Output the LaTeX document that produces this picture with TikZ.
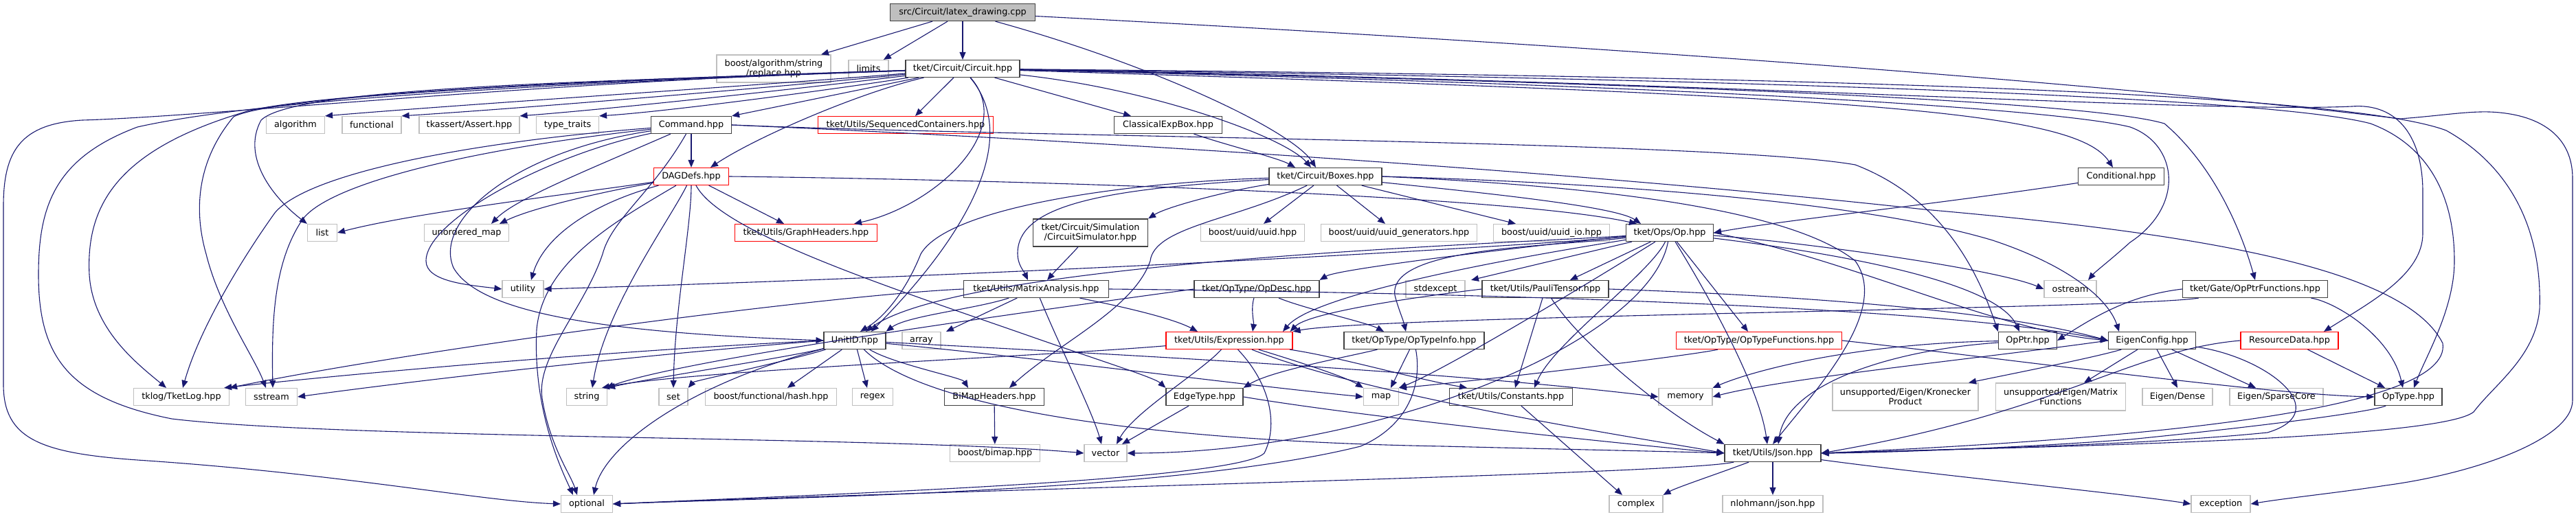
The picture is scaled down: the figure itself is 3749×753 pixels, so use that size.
\documentclass[tikz,border=0pt]{standalone}
\usepackage{fontspec}
\setmainfont{DejaVu Sans}
\usetikzlibrary{arrows.meta}
\definecolor{eb}{HTML}{191970}
\definecolor{gb}{HTML}{BFBFBF}
\definecolor{db}{HTML}{404040}
\begin{document}
\begin{tikzpicture}[x=0.5pt,y=-0.5pt,
  every node/.style={font=\fontsize{6.4}{7.2}\selectfont, inner sep=0pt, align=center, text=black},
  box/.style={draw, line width=0.6pt, minimum height=12.5pt},
  doc/.style={box, draw=db},
  sys/.style={box, draw=gb},
  redbox/.style={box, draw=red},
  rootbox/.style={box, draw=db, fill=gb},
  tall/.style={minimum height=20pt},
  e/.style={draw=eb, line width=0.55pt, -{Triangle[length=5.5pt,width=4.5pt]}}]
\fill[white] (0,0) rectangle (3749,753);
\useasboundingbox (0,0) rectangle (3749,753);
% ---------- nodes ----------
\node[rootbox, minimum width=105.5pt] (root) at (1401,18) {src/Circuit/latex\_drawing.cpp};
\node[sys, tall, minimum width=83pt] (replace) at (1126,100) {boost/algorithm/string\\/replace.hpp};
\node[sys, minimum width=29pt] (limits) at (1264,100) {limits};
\node[doc, minimum width=83pt] (circuit) at (1401,100) {tket/Circuit/Circuit.hpp};
\node[sys, minimum width=42.5pt] (algorithm) at (430,182) {algorithm};
\node[sys, minimum width=43pt] (functional) at (541,182) {functional};
\node[sys, minimum width=73pt] (assert) at (683,182) {tkassert/Assert.hpp};
\node[sys, minimum width=45.5pt] (typetraits) at (826,182) {type\_traits};
\node[doc, minimum width=58.5pt] (command) at (1006,182) {Command.hpp};
\node[redbox, minimum width=127.5pt] (seqcont) at (1318,182) {tket/Utils/SequencedContainers.hpp};
\node[doc, minimum width=78.5pt] (classexp) at (1700,182) {ClassicalExpBox.hpp};
\node[redbox, minimum width=54.5pt] (dagdefs) at (1006,257) {DAGDefs.hpp};
\node[doc, minimum width=82pt] (boxes) at (1929,257) {tket/Circuit/Boxes.hpp};
\node[doc, minimum width=62.5pt] (conditional) at (3087,257) {Conditional.hpp};
\node[sys, minimum width=21.5pt] (list) at (469,339) {list};
\node[sys, minimum width=61.5pt] (umap) at (679,339) {unordered\_map};
\node[redbox, minimum width=103.5pt] (graphh) at (1173,339) {tket/Utils/GraphHeaders.hpp};
\node[doc, tall, minimum width=83.5pt] (circsim) at (1587,339) {tket/Circuit/Simulation\\/CircuitSimulator.hpp};
\node[sys, minimum width=75.5pt] (uuid) at (1823,339) {boost/uuid/uuid.hpp};
\node[sys, minimum width=113.5pt] (uuidgen) at (2036,339) {boost/uuid/uuid\_generators.hpp};
\node[sys, minimum width=84.5pt] (uuidio) at (2258,339) {boost/uuid/uuid\_io.hpp};
\node[doc, minimum width=63.5pt] (op) at (2430,339) {tket/Ops/Op.hpp};
\node[sys, minimum width=30pt] (utility) at (761,421) {utility};
\node[doc, minimum width=105.5pt] (matrix) at (1508,421) {tket/Utils/MatrixAnalysis.hpp};
\node[doc, minimum width=91pt] (opdesc) at (1829,421) {tket/OpType/OpDesc.hpp};
\node[sys, minimum width=43pt] (stdexcept) at (2089,421) {stdexcept};
\node[doc, minimum width=92pt] (pauli) at (2249,421) {tket/Utils/PauliTensor.hpp};
\node[sys, minimum width=38pt] (ostream) at (3013,421) {ostream};
\node[doc, minimum width=105.5pt] (opptrfun) at (3282,421) {tket/Gate/OpPtrFunctions.hpp};
\node[doc, minimum width=45pt] (unitid) at (1244,496) {UnitID.hpp};
\node[sys, minimum width=28pt] (array) at (1341,496) {array};
\node[redbox, minimum width=92pt] (expr) at (1789,496) {tket/Utils/Expression.hpp};
\node[doc, minimum width=102pt] (optinfo) at (2058,496) {tket/OpType/OpTypeInfo.hpp};
\node[redbox, minimum width=120.5pt] (optfun) at (2560,496) {tket/OpType/OpTypeFunctions.hpp};
\node[doc, minimum width=42.5pt] (opptr) at (2951,496) {OpPtr.hpp};
\node[doc, minimum width=63.5pt] (eigen) at (3132,496) {EigenConfig.hpp};
\node[redbox, minimum width=71pt] (resource) at (3332,496) {ResourceData.hpp};
\node[sys, minimum width=69.5pt] (tklog) at (264,578) {tklog/TketLog.hpp};
\node[sys, minimum width=37.5pt] (sstream) at (395,578) {sstream};
\node[sys, minimum width=29.5pt] (string) at (854,578) {string};
\node[sys, minimum width=21pt] (set) at (980,578) {set};
\node[sys, minimum width=95.5pt] (hash) at (1122,578) {boost/functional/hash.hpp};
\node[sys, minimum width=29.5pt] (regex) at (1270,578) {regex};
\node[doc, minimum width=72.5pt] (bimaph) at (1447,578) {BiMapHeaders.hpp};
\node[doc, minimum width=56pt] (edgetype) at (1753,578) {EdgeType.hpp};
\node[sys, minimum width=25.5pt] (map) at (2010,578) {map};
\node[doc, minimum width=89.5pt] (constants) at (2199,578) {tket/Utils/Constants.hpp};
\node[sys, minimum width=39pt] (memory) at (2453,578) {memory};
\node[sys, tall, minimum width=106pt] (kron) at (2773,578) {unsupported/Eigen/Kronecker\\Product};
\node[sys, tall, minimum width=94.5pt] (matfun) at (2999,578) {unsupported/Eigen/Matrix\\Functions};
\node[sys, minimum width=51pt] (dense) at (3169,578) {Eigen/Dense};
\node[sys, minimum width=68pt] (sparse) at (3313,578) {Eigen/SparseCore};
\node[doc, minimum width=49pt] (optype) at (3505,578) {OpType.hpp};
\node[sys, minimum width=65.5pt] (bimap) at (1448,660) {boost/bimap.hpp};
\node[sys, minimum width=31pt] (vector) at (1609,660) {vector};
\node[doc, minimum width=70pt] (json) at (2580,660) {tket/Utils/Json.hpp};
\node[sys, minimum width=37.5pt] (optional) at (854,734) {optional};
\node[sys, minimum width=39pt] (complex) at (2381,734) {complex};
\node[sys, minimum width=73pt] (nlohmann) at (2580,734) {nlohmann/json.hpp};
\node[sys, minimum width=43pt] (exception) at (3232,734) {exception};
% ---------- root ----------
\draw[e] (root) -- (replace);
\draw[e] (root) -- (limits);
\draw[e] (root) -- (circuit);
\draw[e] (root) .. controls (1680,95) and (1880,190) .. ([xshift=-7pt]boxes.north);
\draw[e] (root) .. controls (2400,70) and (3100,125) .. (3493,173) .. controls (3560,168) and (3600,160) .. (3638,164) .. controls (3700,170) and (3744,200) .. (3744,260) -- (3744,583) .. controls (3744,640) and (3600,690) .. (3472,707) .. controls (3400,718) and (3330,725) .. (exception.east);
% ---------- Circuit ----------
\draw[e] (circuit) .. controls (1100,125) and (700,150) .. (algorithm.north east);
\draw[e] (circuit) .. controls (1150,125) and (800,155) .. (functional.north east);
\draw[e] (circuit) .. controls (1200,125) and (900,158) .. (assert.north east);
\draw[e] (circuit) .. controls (1250,125) and (980,162) .. (typetraits.north east);
\draw[e] (circuit) -- (command.north east);
\draw[e] (circuit) -- ([xshift=7pt]seqcont.north);
\draw[e] (circuit) -- ([xshift=-27pt]classexp.north);
\draw[e] (circuit) .. controls (1680,130) and (1870,200) .. ([xshift=-10.5pt]boxes.north);
\draw[e] (circuit) .. controls (1250,135) and (1100,200) .. ([xshift=14pt]dagdefs.north);
\draw[e] (circuit) .. controls (1480,190) and (1360,300) .. ([xshift=35pt]graphh.north);
\draw[e] (circuit) .. controls (1510,230) and (1330,420) .. ([xshift=12pt]unitid.north);
\draw[e] (circuit) .. controls (900,118) and (430,125) .. (380,175) .. controls (350,230) and (400,290) .. (list.north west);
\draw[e] (circuit) .. controls (800,118) and (420,140) .. (350,165) .. controls (170,220) and (125,300) .. (130,400) .. controls (135,480) and (200,530) .. ([xshift=-11pt]tklog.north);
\draw[e] (circuit) .. controls (900,118) and (400,140) .. (200,185) .. controls (80,230) and (56,300) .. (56,400) .. controls (56,520) and (100,580) .. (250,610) .. controls (500,640) and (1300,635) .. (vector.west);
\draw[e] (circuit) .. controls (800,118) and (300,170) .. (120,175) .. controls (30,180) and (5,220) .. (5,300) -- (5,560) .. controls (5,640) and (60,660) .. (200,670) .. controls (500,690) and (700,730) .. (optional.west);
\draw[e] (circuit) .. controls (800,120) and (400,140) .. (340,170) .. controls (290,230) and (280,300) .. (300,370) .. controls (320,450) and (370,520) .. ([xshift=-4pt]sstream.north);
\draw[e] (circuit) .. controls (2700,140) and (3020,160) .. ([xshift=-6pt]conditional.north);
\draw[e] (circuit) .. controls (2500,125) and (3000,160) .. (3100,185) .. controls (3170,210) and (3180,300) .. (3100,353) .. controls (3070,380) and (3050,395) .. ([xshift=13pt]ostream.north);
\draw[e] (circuit) .. controls (2500,122) and (3050,150) .. (3150,180) .. controls (3220,240) and (3260,330) .. (opptrfun.north);
\draw[e] (circuit) .. controls (2500,118) and (3200,165) .. (3423,155) .. controls (3490,150) and (3526,200) .. (3526,280) -- (3526,340) .. controls (3526,400) and (3450,440) .. ([xshift=25pt]resource.north);
\draw[e] (circuit) .. controls (2500,114) and (3300,140) .. (3450,180) .. controls (3530,210) and (3572,280) .. (3572,380) .. controls (3572,450) and (3530,520) .. ([xshift=4pt]optype.north);
\draw[e] (circuit) .. controls (2500,110) and (3400,130) .. (3560,190) .. controls (3650,240) and (3700,330) .. (3696,450) .. controls (3690,520) and (3630,560) .. (3600,600) .. controls (3550,640) and (3000,650) .. (json.east);
% ---------- Command ----------
\draw[e] (command) -- (dagdefs);
\draw[e] (command.east) .. controls (1500,200) and (2500,205) .. (2700,240) .. controls (2830,290) and (2880,400) .. (opptr.north west);
\draw[e] (command) .. controls (750,220) and (630,320) .. (660,390) .. controls (700,460) and (900,485) .. (unitid.west);
\draw[e] (command) .. controls (700,205) and (450,250) .. (400,310) .. controls (350,380) and (290,480) .. ([xshift=1pt]tklog.north);
\draw[e] (command) .. controls (700,215) and (480,265) .. (440,320) .. controls (400,380) and (395,460) .. ([xshift=1pt]sstream.north);
\draw[e] (command) .. controls (800,225) and (620,320) .. (620,380) .. controls (620,410) and (680,415) .. (utility.west);
\draw[e] (command) .. controls (950,280) and (890,320) .. (877,370) .. controls (850,450) and (780,520) .. (789,580) .. controls (800,650) and (830,690) .. ([xshift=-7pt]optional.north);
\draw[e] (command) .. controls (850,250) and (750,290) .. ([xshift=18pt]umap.north);
\draw[e] (command.east) .. controls (1600,205) and (2300,250) .. (2800,305) .. controls (3200,340) and (3500,390) .. (3555,500) .. controls (3570,600) and (3100,640) .. (json.east);
% ---------- DAGDefs ----------
\draw[e] (dagdefs) .. controls (850,280) and (600,310) .. (list.east);
\draw[e] (dagdefs) .. controls (900,275) and (780,300) .. ([xshift=24pt]umap.north);
\draw[e] (dagdefs) .. controls (850,300) and (790,350) .. ([xshift=6pt]utility.north);
\draw[e] (dagdefs) .. controls (900,320) and (790,380) .. (781,480) .. controls (775,600) and (820,690) .. ([xshift=-10pt]optional.north);
\draw[e] (dagdefs) .. controls (975,320) and (880,450) .. ([xshift=4pt]string.north);
\draw[e] (dagdefs) .. controls (1006,330) and (982,450) .. (set.north);
\draw[e] (dagdefs) .. controls (1050,340) and (1300,420) .. (1500,490) .. controls (1600,525) and (1680,550) .. (edgetype.north west);
\draw[e] (dagdefs) -- ([xshift=-16pt]graphh.north);
\draw[e] (dagdefs.east) .. controls (1500,262) and (2200,285) .. ([xshift=-24pt]op.north);
% ---------- Boxes ----------
\draw[e] (classexp) .. controls (1780,210) and (1860,230) .. ([xshift=-22pt]boxes.north);
\draw[e] (boxes) .. controls (1800,275) and (1700,300) .. (circsim.north east);
\draw[e] (boxes) -- ([xshift=8pt]uuid.north);
\draw[e] (boxes) -- ([xshift=-10pt]uuidgen.north);
\draw[e] (boxes) -- ([xshift=-26pt]uuidio.north);
\draw[e] (boxes) .. controls (2150,280) and (2350,300) .. ([xshift=-21pt]op.north);
\draw[e] (boxes) .. controls (1600,275) and (1480,300) .. (1481,370) .. controls (1481,385) and (1490,395) .. ([xshift=-6pt]matrix.north);
\draw[e] (boxes) .. controls (1650,265) and (1380,300) .. (1340,370) .. controls (1320,420) and (1290,460) .. ([xshift=4pt]unitid.north);
\draw[e] (boxes) .. controls (1800,320) and (1680,330) .. (1674,380) .. controls (1650,450) and (1540,500) .. ([xshift=11pt]bimaph.north);
\draw[e] (boxes.east) .. controls (2300,265) and (2700,290) .. (2900,350) .. controls (3020,390) and (3070,440) .. ([xshift=-24pt]eigen.north);
\draw[e] (boxes.east) .. controls (2300,270) and (2600,300) .. (2700,380) .. controls (2750,450) and (2650,560) .. (json.north);
% ---------- Op ----------
\draw[e] (op) .. controls (2200,360) and (1500,400) .. (utility.east);
\draw[e] (op) .. controls (2200,355) and (1400,380) .. ([xshift=8pt]unitid.north);
\draw[e] (op) .. controls (2300,350) and (1950,390) .. (opdesc.north east);
\draw[e] (op) -- ([xshift=26pt]stdexcept.north);
\draw[e] (op) -- ([xshift=18pt]pauli.north);
\draw[e] (op) .. controls (2300,360) and (1920,420) .. ([xshift=39pt]expr.north);
\draw[e] (op) .. controls (2250,360) and (2020,360) .. (2030,430) .. controls (2035,450) and (2042,465) .. ([xshift=-6pt]optinfo.north);
\draw[e] (op) -- ([xshift=-8pt]optfun.north);
\draw[e] (op) .. controls (2600,360) and (2900,400) .. ([xshift=-6pt]opptr.north);
\draw[e] (op) .. controls (2600,350) and (2900,390) .. (ostream.west);
\draw[e] (op) .. controls (2400,400) and (2260,500) .. ([xshift=17pt]constants.north);
\draw[e] (op) .. controls (2480,420) and (2560,560) .. ([xshift=-4pt]json.north);
\draw[e] (op) .. controls (2300,420) and (2100,540) .. ([xshift=13pt]map.north);
\draw[e] (op) .. controls (2400,500) and (2000,660) .. (vector.east);
\draw[e] (op.east) .. controls (2700,380) and (2900,480) .. (eigen.west);
\draw[e] (conditional) .. controls (2800,300) and (2600,320) .. (op.east);
% ---------- MatrixAnalysis ----------
\draw[e] (matrix) .. controls (1420,450) and (1320,460) .. (unitid.north east);
\draw[e] (matrix) -- ([xshift=18pt]array.north);
\draw[e] (matrix) .. controls (1540,500) and (1590,600) .. ([xshift=-3pt]vector.north);
\draw[e] (matrix) .. controls (1600,440) and (1700,460) .. ([xshift=-23pt]expr.north);
\draw[e] (matrix.east) .. controls (2000,425) and (2800,440) .. (eigen.west);
\draw[e] (matrix.west) .. controls (1200,430) and (600,510) .. (tklog.north east);
\draw[e] (circsim) .. controls (1560,370) and (1540,390) .. ([xshift=8pt]matrix.north);
% ---------- UnitID ----------
\draw[e] (unitid) .. controls (1150,520) and (950,550) .. (string.north east);
\draw[e] (unitid) .. controls (1150,525) and (1010,555) .. (set.north east);
\draw[e] (unitid) -- ([xshift=12pt]hash.north);
\draw[e] (unitid) -- ([xshift=-4pt]regex.north);
\draw[e] (unitid) .. controls (1300,530) and (1400,550) .. ([xshift=-19pt]bimaph.north);
\draw[e] (unitid) .. controls (1500,520) and (1800,560) .. (map.west);
\draw[e] (unitid) .. controls (1600,515) and (2100,540) .. (memory.west);
\draw[e] (unitid) .. controls (1350,600) and (1700,643) .. (2100,650) .. controls (2300,655) and (2450,658) .. (json.west);
\draw[e] (unitid) .. controls (1000,560) and (880,650) .. ([xshift=5pt]optional.north);
\draw[e] (unitid.west) .. controls (900,520) and (600,555) .. (sstream.east);
\draw[e] (unitid.west) .. controls (900,510) and (500,545) .. ([xshift=-4pt]tklog.north east);
\draw[e] (bimaph) -- (bimap);
% ---------- Expression ----------
\draw[e] (expr) .. controls (1500,520) and (1000,540) .. ([xshift=11pt]string.north);
\draw[e] (expr) .. controls (1850,560) and (1860,620) .. (1840,660) .. controls (1800,700) and (1200,720) .. (optional.east);
\draw[e] (expr) .. controls (1750,540) and (1650,600) .. ([xshift=8pt]vector.north);
\draw[e] (expr) .. controls (1950,520) and (2050,550) .. ([xshift=-32pt]constants.north);
\draw[e] (expr) .. controls (1900,530) and (1960,550) .. (map.north west);
\draw[e] (expr) .. controls (2000,580) and (2400,640) .. (json.west);
% ---------- OpDesc, PauliTensor, OpTypeInfo, OpTypeFunctions ----------
\draw[e] (opdesc) .. controls (1900,450) and (1990,470) .. ([xshift=-22pt]optinfo.north);
\draw[e] (opdesc) .. controls (1820,450) and (1825,470) .. ([xshift=17pt]expr.north);
\draw[e] (opdesc.west) .. controls (1600,440) and (1000,520) .. ([xshift=-1pt]string.north east);
\draw[e] (pauli) -- ([xshift=3pt]constants.north);
\draw[e] (pauli) .. controls (2300,500) and (2420,600) .. (json.north west);
\draw[e] (pauli.west) .. controls (2000,440) and (1900,460) .. ([xshift=-2pt]expr.north east);
\draw[e] (pauli.east) .. controls (2600,430) and (2900,450) .. (eigen.west);
\draw[e] (optinfo) -- ([xshift=7pt]map.north);
\draw[e] (optinfo) .. controls (2070,560) and (2050,620) .. (1980,650) .. controls (1700,720) and (1100,725) .. (optional.east);
\draw[e] (optinfo) .. controls (1960,520) and (1850,540) .. (edgetype.north east);
\draw[e] (optfun.east) .. controls (2900,520) and (3300,575) .. (optype.west);
\draw[e] (optfun) .. controls (2450,520) and (2100,560) .. (map.north east);
% ---------- OpPtr, EigenConfig, OpPtrFunctions, ResourceData, OpType ----------
\draw[e] (opptr) .. controls (2700,500) and (2550,540) .. (memory.north east);
\draw[e] (opptr) .. controls (2750,510) and (2600,560) .. ([xshift=4pt]json.north);
\draw[e] (eigen) -- (dense.north);
\draw[e] (eigen) -- ([xshift=-15pt]sparse.north);
\draw[e] (eigen) .. controls (3050,520) and (2950,540) .. ([xshift=46pt]kron.north);
\draw[e] (eigen) -- ([xshift=17pt]matfun.north);
\draw[e] (eigen) .. controls (3300,520) and (3400,600) .. (3300,630) .. controls (3100,650) and (2800,655) .. (json.east);
\draw[e] (eigen.west) .. controls (2900,520) and (2600,550) .. (memory.east);
\draw[e] (opptrfun.west) .. controls (3100,430) and (3050,460) .. (opptr.east);
\draw[e] (opptrfun) .. controls (3400,440) and (3480,490) .. ([xshift=-4pt]optype.north);
\draw[e] (opptrfun) .. controls (3100,450) and (2000,460) .. (expr.north east);
\draw[e] (resource) -- ([xshift=-17pt]optype.north);
\draw[e] (resource.west) .. controls (3100,510) and (3000,600) .. (json.east);
\draw[e] (optype) .. controls (3450,600) and (3300,620) .. (3100,640) .. controls (2900,655) and (2700,660) .. (json.east);
% ---------- leaves ----------
\draw[e] (constants) -- ([xshift=-10pt]complex.north);
\draw[e] (json) -- (nlohmann);
\draw[e] (json) .. controls (2500,690) and (2440,710) .. (complex.north east);
\draw[e] (json) .. controls (2800,690) and (3100,720) .. (exception.west);
\draw[e] (json) .. controls (2450,690) and (1500,710) .. (optional.east);
\draw[e] (edgetype) -- ([xshift=12pt]vector.north);
\draw[e] (edgetype.east) .. controls (2000,610) and (2400,650) .. (json.west);
\end{tikzpicture}
\end{document}
